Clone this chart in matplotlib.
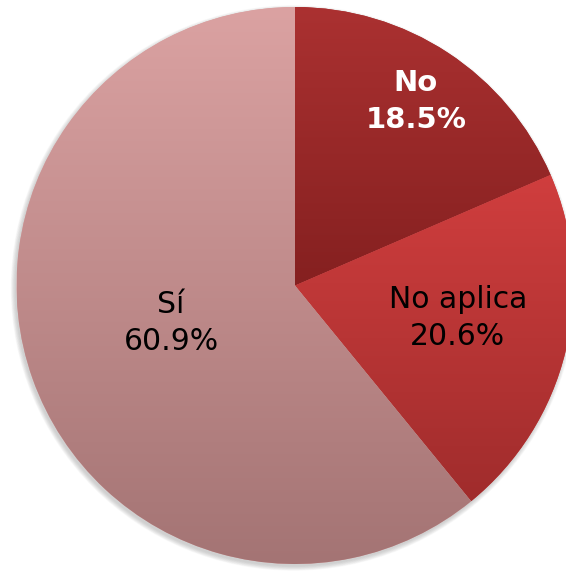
import numpy as np
import matplotlib
matplotlib.use('Agg')
import matplotlib.pyplot as plt
from matplotlib.colors import to_rgb
from matplotlib.patches import Circle

labels = ['No', 'No aplica', 'Sí']
values = [18.5, 20.6, 60.9]
top_colors = ['#ab3131', '#d03e3e', '#dba2a2']
bottom_colors = ['#852020', '#a02c2c', '#a47474']
text_colors = ['white', 'black', 'black']
weights = ['bold', 'normal', 'normal']
label_dist = [0.79, 0.596, 0.465]
label_angle_shift = [0.0, 2.4, -2.8]

W, H = 566, 571
fig = plt.figure(figsize=(W / 100, H / 100), dpi=100)
ax = fig.add_axes([0, 0, 1, 1])
cx, cy, R = 295, 285.5, 278.5

# soft shadow
for i in range(8):
    ax.add_patch(Circle((cx - 1.5, cy - 2.5), R + 0.6 * i, facecolor='#808080',
                        edgecolor='none', alpha=0.05, zorder=0))

wedges, _ = ax.pie(values, startangle=90, counterclock=False, center=(cx, cy),
                   radius=R, colors=top_colors, wedgeprops=dict(linewidth=0))

for w, c0, c1 in zip(wedges, top_colors, bottom_colors):
    ext = w.get_path().get_extents()
    t = np.linspace(0, 1, 200)[:, None]
    a, b = np.array(to_rgb(c1)), np.array(to_rgb(c0))
    img = (a[None, None, :] * (1 - t[:, :, None]) + b[None, None, :] * t[:, :, None])
    im = ax.imshow(img, extent=(ext.x0, ext.x1, ext.y0, ext.y1), origin='lower',
                   aspect='auto', interpolation='bilinear', zorder=2)
    im.set_clip_path(w)

for w, lab, v, tc, fw, d, sh in zip(wedges, labels, values, text_colors, weights,
                                    label_dist, label_angle_shift):
    th = np.deg2rad((w.theta1 + w.theta2) / 2 + sh)
    x = cx + d * R * np.cos(th)
    y = cy + d * R * np.sin(th)
    ax.text(x, y, f"{lab}\n{v:.1f}%", ha='center', va='center',
            fontsize=21.5 if fw == 'normal' else 21,
            color=tc, fontweight=fw, family='DejaVu Sans', zorder=5,
            linespacing=1.38)

ax.set_xlim(0, W)
ax.set_ylim(0, H)
ax.set_aspect('auto')
ax.axis('off')
fig.savefig('out.png', dpi=100, facecolor='white')
